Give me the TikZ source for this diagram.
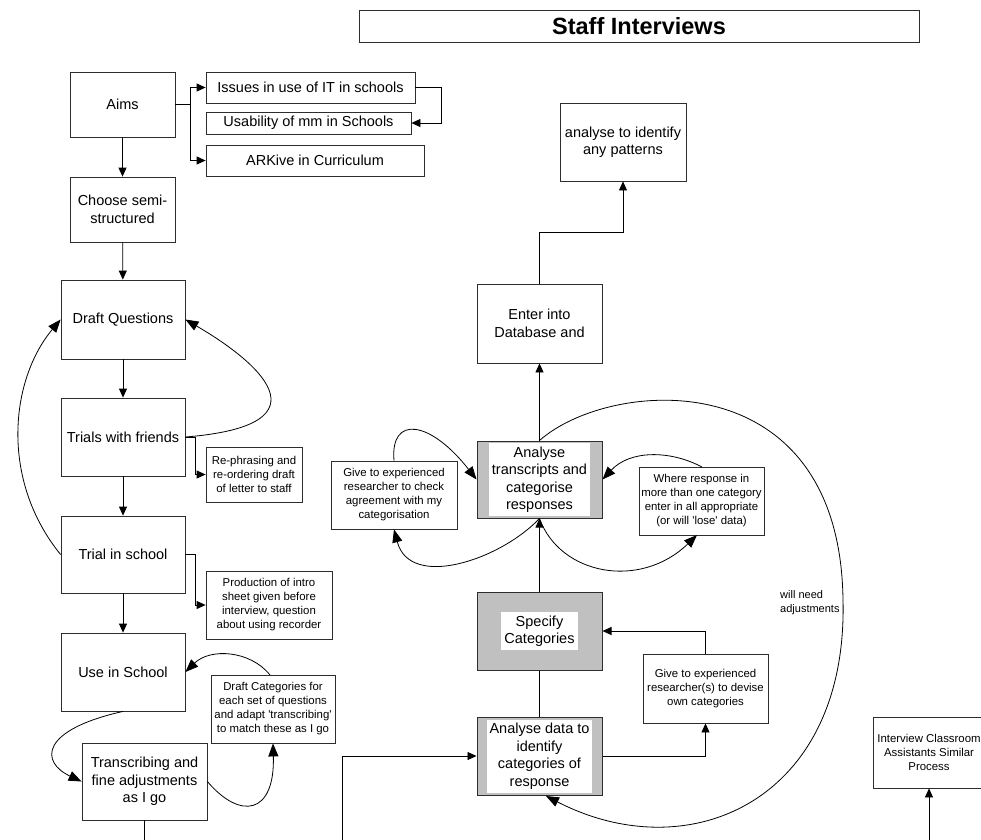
\documentclass[tikz,border=0pt]{standalone}
\usepackage{fontspec}
\setmainfont{Liberation Sans}
\usetikzlibrary{arrows.meta}
\definecolor{boxgray}{RGB}{192,192,192}
\definecolor{edge}{RGB}{45,45,45}

\tikzset{
  box/.style={draw=edge, line width=0.8pt, fill=white, align=center, inner sep=0pt,
    font=\fontsize{14.5}{17.5}\selectfont},
  smallbox/.style={box, font=\fontsize{11.4}{14}\selectfont},
  graybox/.style={draw=edge, line width=1pt, fill=boxgray, inner sep=0pt},
  graytext/.style={fill=white, align=center, inner xsep=3pt, inner ysep=3.5pt,
    font=\fontsize{14.5}{17.5}\selectfont},
  link/.style={line width=0.8pt, draw=black},
  flow/.style={link, -{Triangle[length=9pt,width=8pt]}},
  loopback/.style={link, -{Triangle[length=13pt,width=10pt]}},
  note/.style={align=left, inner sep=0pt, font=\fontsize{11}{14}\selectfont},
}

\begin{document}
\begin{tikzpicture}[x=1pt,y=-1pt]
\useasboundingbox (0,0) rectangle (981,839);
\clip (0,0) rectangle (981,839);

% title
\node[draw=edge, line width=0.8pt, minimum width=560pt, minimum height=32pt, inner sep=0pt,
  font=\bfseries\fontsize{23.5}{28}\selectfont] (title) at (639,26) {Staff Interviews};

% left column
\node[box, minimum width=105pt, minimum height=65pt] (aims) at (122.5,104.5) {Aims};
\node[box, minimum width=209pt, minimum height=31pt] (issues) at (310.5,87.5) {Issues in use of IT in schools};
\node[box, minimum width=205pt, minimum height=22pt] (usab) at (308.5,123) {Usability of mm in Schools};
\node[box, minimum width=218pt, minimum height=31pt] (arkive) at (315,160.5) {ARKive in Curriculum};
\node[box, minimum width=105pt, minimum height=65pt] (choose) at (122.5,209.5) {Choose semi-\\structured};
\node[box, minimum width=124pt, minimum height=79pt] (draftq) at (123,319.5) {Draft Questions};
\node[box, minimum width=124pt, minimum height=78pt] (trials) at (123,437) {Trials with friends};
\node[smallbox, minimum width=96pt, minimum height=55pt] (rephr) at (254,474.5) {Re-phrasing and\\re-ordering draft\\of letter to staff};
\node[box, minimum width=124pt, minimum height=77pt] (trialsch) at (123,554.5) {Trial in school};
\node[smallbox, minimum width=126pt, minimum height=68pt] (prod) at (269,605) {Production of intro\\sheet given before\\interview, question\\about using recorder};
\node[box, minimum width=124pt, minimum height=78pt] (useschool) at (123,672) {Use in School};
\node[smallbox, minimum width=124pt, minimum height=68pt] (draftcat) at (273,709) {Draft Categories for\\each set of questions\\and adapt \textquotesingle transcribing\textquotesingle\\to match these as I go};
\node[box, minimum width=125pt, minimum height=77pt] (transc) at (144.5,781.5) {Transcribing and\\fine adjustments\\as I go};

% analysis column
\node[box, minimum width=126pt, minimum height=78pt] (patterns) at (623,142) {analyse to identify\\any patterns};
\node[box, minimum width=125pt, minimum height=79pt] (enter) at (539.5,323.5) {Enter into\\Database and};
\node[graybox, minimum width=125pt, minimum height=77pt] (antr) at (539.5,479.5) {};
\node[graytext] (antrtext) at (antr) {Analyse\\transcripts and\\categorise\\responses};
\node[smallbox, minimum width=126pt, minimum height=68pt] (givechk) at (394,495) {Give to experienced\\researcher to check\\agreement with my\\categorisation};
\node[smallbox, minimum width=125pt, minimum height=68pt] (where) at (701.5,501) {Where response in\\more than one category\\enter in all appropriate\\(or will \textquotesingle lose\textquotesingle{} data)};
\node[graybox, minimum width=125pt, minimum height=78pt] (spec) at (539.5,631) {};
\node[graytext] (spectext) at (spec) {Specify\\Categories};
\node[smallbox, minimum width=125pt, minimum height=69pt] (givedev) at (705.5,688.5) {Give to experienced\\researcher(s) to devise\\own categories};
\node[graybox, minimum width=125pt, minimum height=78pt] (analdata) at (539.5,756) {};
\node[graytext] (analtext) at (analdata) {Analyse data to\\identify\\categories of\\response};
\node[smallbox, minimum width=112pt, minimum height=71pt] (interview) at (929,752.5) {Interview Classroom\\Assistants Similar\\Process};
\node[note, anchor=north west] (adjust) at (780,590) {will need\\adjustments};

% loose ends leaving the page
\coordinate (aimsjoin) at (190,104.5);
\coordinate (transcout) at (144.5,850);
\coordinate (dataentry) at (342,850);
\coordinate (assistin) at (929,850);

% aims branches
\draw[link] (aims.east) -- (aimsjoin);
\draw[flow] (aimsjoin) |- (issues.west);
\draw[flow] (aimsjoin) |- (arkive.west);
\draw[flow] (issues.east) -- ++(26,0) |- (usab.east);

% main sequence
\draw[flow] (aims) -- (choose);
\draw[flow] (choose) -- (draftq);
\draw[flow] (draftq) -- (trials);
\draw[flow] (trials) -- (trialsch);
\draw[flow] (trialsch) -- (useschool);
\draw[flow] (trials.east) -- ++(10,0) |- (rephr.west);
\draw[flow] (trialsch.east) -- ++(10,0) |- (prod.west);
\draw[link] (transc.south) -- (transcout);

% feedback loops on the left
\draw[loopback] (trials.east) .. controls (335,425) and (255,360) .. (draftq.east);
\draw[loopback] (trialsch.west) .. controls (0,480) and (10,380) .. (draftq.west);
\draw[loopback] (useschool.south) .. controls (40,730) and (40,762) .. (transc.west);
\draw[loopback] (transc.east) .. controls (240,820) and (275,815) .. (draftcat.south);
\draw[loopback] (270,675) .. controls (250,650) and (210,648) .. (useschool.east);

% analysis flow
\draw[flow] (dataentry) |- (analdata.west);
\draw[flow] (analdata.east) -| (givedev.south);
\draw[flow] (givedev.north) |- (spec.east);
\draw[link] (spec.south) -- (analdata.north);
\draw[flow] (spec.north) -- (antr.south);
\draw[flow] (antr.north) -- (enter.south);
\draw[flow] (enter.north) -- ++(0,-51) -| (patterns.south);
\draw[flow] (assistin) -- (interview.south);

% loops around the categorising step
\draw[loopback] (givechk.north) .. controls (390,415) and (430,420) .. (antr.west);
\draw[loopback] (antr.south) .. controls (500,560) and (410,590) .. (givechk.south);
\draw[loopback] (antr.south) .. controls (560,575) and (640,590) .. (697,535);
\draw[loopback] (702,467) .. controls (670,450) and (630,450) .. (antr.east);
\draw[link] (antr.north) .. controls (610,378) and (840,360) .. (843,600);
\draw[loopback] (843,600) .. controls (848,800) and (690,870) .. (546,796);

\end{tikzpicture}
\end{document}
